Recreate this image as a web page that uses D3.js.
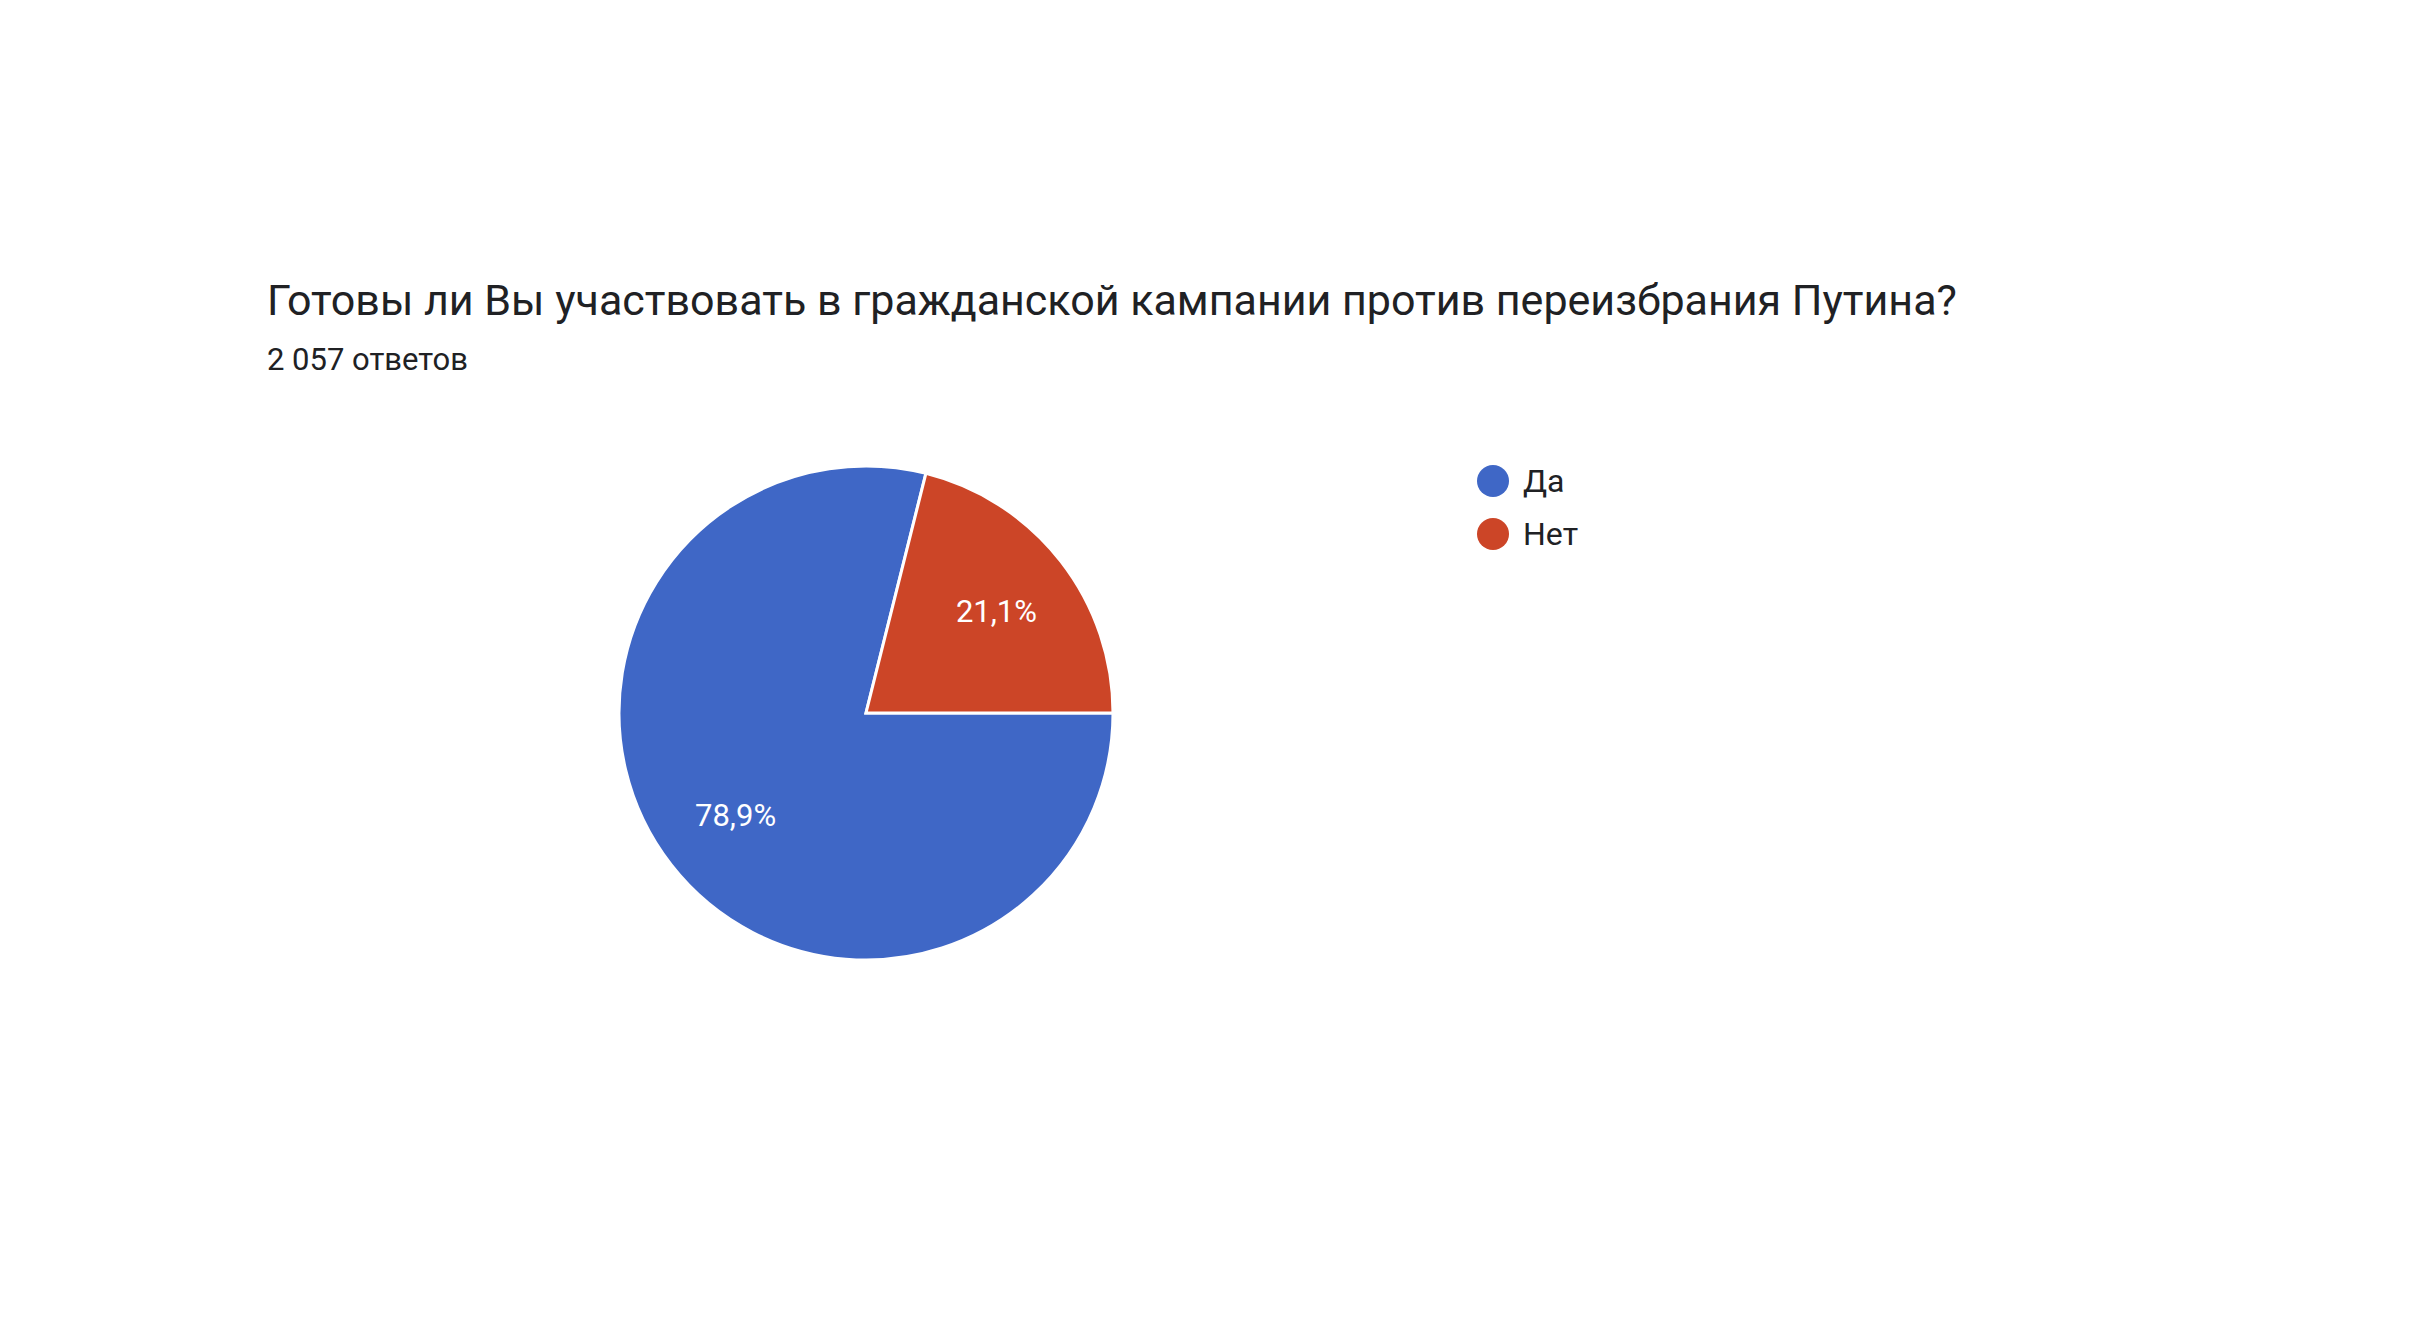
<!DOCTYPE html>
<html><head><meta charset="utf-8">
<script src="https://cdn.jsdelivr.net/npm/d3@7"></script>
<style>body{margin:0;background:#fff;font-family:Roboto,Arial,sans-serif}</style>
</head><body>
<svg id="c" width="2424" height="1318"></svg>
<script>
const categories = ["Да", "Нет"];
const values = [78.9, 21.1];
const labels = ["78,9%", "21,1%"];
const colors = ["#3f67c6", "#cc4527"];
const title = "Готовы ли Вы участвовать в гражданской кампании против переизбрания Путина?";
const subtitle = "2 057 ответов";

const svg = d3.select("#c");
svg.append("text").attr("x",267).attr("y",315).attr("font-size",43).attr("fill","#202124").text(title);
svg.append("text").attr("x",267).attr("y",370).attr("font-size",31).attr("fill","#202124").text(subtitle);

const cx=866, cy=713, r=247;
const pie = d3.pie().sort(null).startAngle(Math.PI/2).endAngle(Math.PI/2+2*Math.PI);
const arcs = pie(values);
const arc = d3.arc().innerRadius(0).outerRadius(r);
const lab = d3.arc().innerRadius(r*0.67).outerRadius(r*0.67);
const g = svg.append("g").attr("transform",`translate(${cx},${cy})`);
g.selectAll("path").data(arcs).join("path").attr("d",arc)
  .attr("fill",(d,i)=>colors[i]).attr("stroke","#fff").attr("stroke-width",3);
g.selectAll("text").data(arcs).join("text")
  .attr("transform",d=>`translate(${lab.centroid(d)})`)
  .attr("text-anchor","middle").attr("dy","0.35em").attr("font-size",31).attr("fill","#fff")
  .text((d,i)=>labels[i]);

const lg = svg.append("g").attr("transform","translate(1493,481)");
categories.forEach((c,i)=>{
  lg.append("circle").attr("cx",0).attr("cy",i*53).attr("r",16).attr("fill",colors[i]);
  lg.append("text").attr("x",30).attr("y",i*53).attr("dy","0.35em").attr("font-size",32).attr("fill","#202124").text(c);
});
</script>
</body></html>
